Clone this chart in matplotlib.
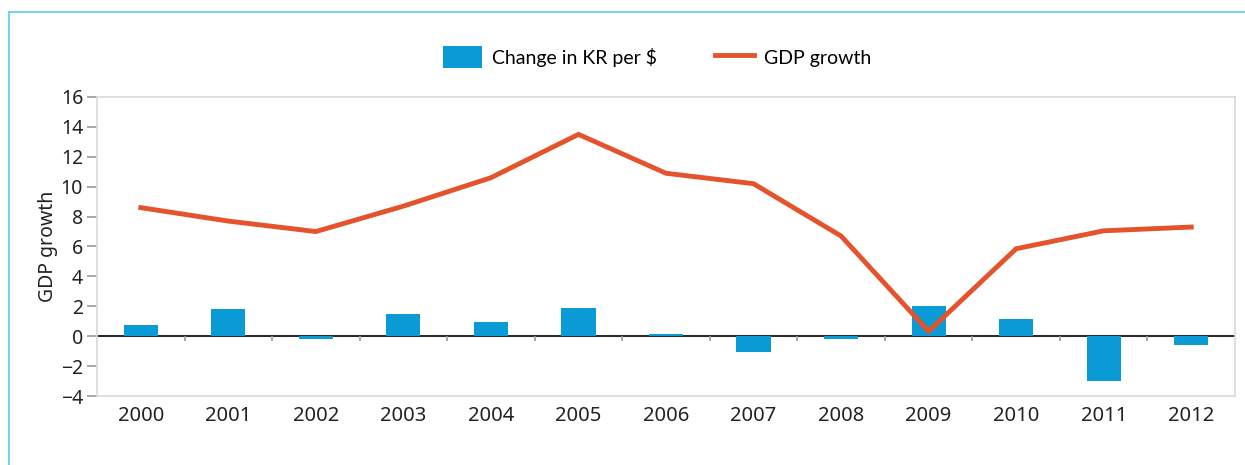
import numpy as np
import matplotlib.pyplot as plt
from matplotlib.lines import Line2D
from matplotlib.patches import Patch

# === Data ===
years = ['2000', '2001', '2002', '2003', '2004', '2005', '2006',
         '2007', '2008', '2009', '2010', '2011', '2012']
kr_change = [0.75, 1.8, -0.2, 1.5, 0.95, 1.9, 0.15, -1.05, -0.2, 2.05, 1.15, -3.0, -0.6]
gdp_growth = [8.6, 7.7, 7.0, 8.7, 10.6, 13.5, 10.9, 10.2, 6.7, 0.33, 5.85, 7.05, 7.3]
y_ticks = [-4, -2, 0, 2, 4, 6, 8, 10, 12, 14, 16]

# === Styling ===
bar_color = '#0a9ad5'
line_color = '#e4532b'
grid_gray = '#d9d9d9'
text_color = '#222222'
plt.rcParams['font.family'] = ['Noto Sans', 'DejaVu Sans']

fig = plt.figure(figsize=(12.45, 4.65), dpi=100)
ax = fig.add_axes([97 / 1245, 1 - 396 / 465, (1235 - 97) / 1245, (396 - 97) / 465])

x = np.arange(len(years))
ax.bar(x, kr_change, width=0.39, color=bar_color, zorder=2, label='Change in KR per $')
ax.plot(x, gdp_growth, color=line_color, linewidth=3.5, zorder=3,
        solid_joinstyle='miter', label='GDP growth')

ax.set_xlim(-0.5, len(years) - 0.5)
ax.set_ylim(-4, 16)
ax.set_yticks(y_ticks)
ax.set_yticklabels([str(t).replace('-', '\u2212') for t in y_ticks])
ax.set_xticks(x)
ax.set_xticklabels(years)

# zero line with category separators
ax.axhline(0, color='black', linewidth=1.2, zorder=1)
ax.vlines(x[:-1] + 0.5, -0.35, 0, color='#999999', linewidth=1.2, zorder=1)

for s in ax.spines.values():
    s.set_color(grid_gray)
    s.set_linewidth(1.2)
ax.tick_params(axis='y', length=7, color='#999999', width=1.2, labelsize=14,
               labelcolor=text_color, pad=3)
ax.tick_params(axis='x', length=0, labelsize=14.5, labelcolor=text_color, pad=7)
ax.set_ylabel('GDP growth', fontsize=14, color=text_color, labelpad=2)

handles = [Patch(facecolor=bar_color, label='Change in KR per $'),
           Line2D([0], [0], color=line_color, linewidth=3.5, label='GDP growth')]
fig.legend(handles=handles, loc='center', bbox_to_anchor=(657 / 1245, 1 - 57 / 465),
           ncol=2, frameon=False, prop={'family': 'Lato', 'size': 14},
           handlelength=2.0, handleheight=1.3, columnspacing=3.0, handletextpad=0.5)

# outer frame (light blue, top and left)
fig.add_artist(Line2D([9 / 1245, 9 / 1245], [0, 1 - 12 / 465], color='#7fd0ea', linewidth=1.5))
fig.add_artist(Line2D([9 / 1245, 1], [1 - 12 / 465, 1 - 12 / 465], color='#7fd0ea', linewidth=1.5))

fig.savefig('out.png', dpi=100)
